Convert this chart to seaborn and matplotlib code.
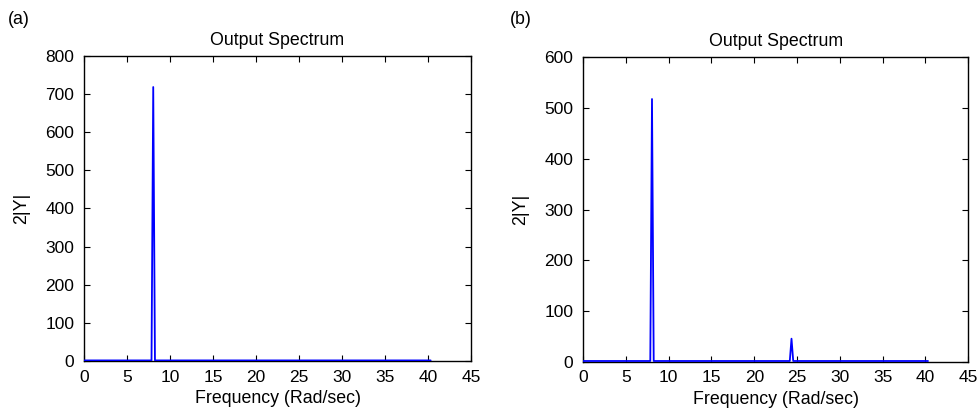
import numpy as np
import pandas as pd
import seaborn as sns
import matplotlib
matplotlib.use("Agg")
import matplotlib.pyplot as plt

# spectrum samples (rad/sec, 2|Y|)
freq_a = [0.0, 7.85, 8.05, 8.25, 40.3]
mag_a = [2, 2, 718, 2, 2]

freq_b = [0.0, 7.85, 8.05, 8.25, 24.15, 24.35, 24.55, 40.3]
mag_b = [2, 2, 518, 2, 2, 46, 2, 2]

xticks = [0, 5, 10, 15, 20, 25, 30, 35, 40, 45]
yticks_a = [0, 100, 200, 300, 400, 500, 600, 700, 800]
yticks_b = [0, 100, 200, 300, 400, 500, 600]

sns.set_style("ticks")
plt.rcParams['font.family'] = ['Liberation Sans', 'DejaVu Sans']
plt.rcParams['text.color'] = 'black'
plt.rcParams['axes.labelcolor'] = 'black'

fig = plt.figure(figsize=(9.8, 4.19), dpi=100)
ax1 = fig.add_axes([0.0857, 0.138, 0.395, 0.729])
ax2 = fig.add_axes([0.595, 0.136, 0.393, 0.727])

df_a = pd.DataFrame({'freq': freq_a, 'mag': mag_a})
df_b = pd.DataFrame({'freq': freq_b, 'mag': mag_b})

fs = 12.8
for ax, df, yt, tag, tx in [(ax1, df_a, yticks_a, '(a)', 8),
                            (ax2, df_b, yticks_b, '(b)', 510)]:
    sns.lineplot(x='freq', y='mag', data=df, color='#0000ff',
                 linewidth=1.3, ax=ax, sort=False, zorder=3)
    ax.set_xlim(0, 45)
    ax.set_ylim(0, yt[-1])
    ax.set_xticks(xticks)
    ax.set_yticks(yt)
    ax.tick_params(direction='in', top=True, right=True, length=4,
                   width=0.8, labelsize=12.5, colors='black')
    ax.tick_params(axis='y', pad=7)
    ax.tick_params(axis='x', pad=6)
    for s in ax.spines.values():
        s.set_linewidth(1.0)
        s.set_color('black')
    ax.set_title('Output Spectrum', fontsize=fs, pad=8, color='black')
    ax.set_xlabel('Frequency (Rad/sec)', fontsize=fs, labelpad=4, color='black')
    ax.set_ylabel('2|Y|', fontsize=fs, labelpad=11, color='black')
    fig.text(tx / 980, 1 - 20 / 419, tag, fontsize=fs, ha='left', va='center',
             color='black')

fig.savefig('out.png', dpi=100)
